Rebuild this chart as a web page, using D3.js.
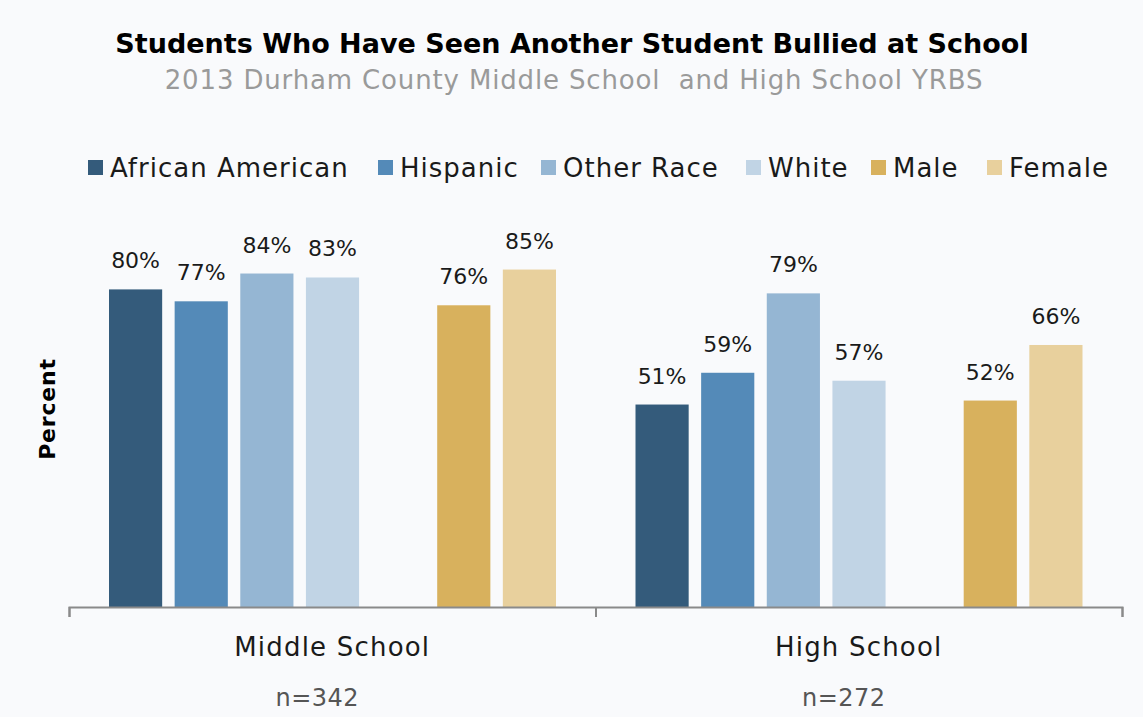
<!DOCTYPE html>
<html>
<head>
<meta charset="utf-8">
<script src="https://cdn.jsdelivr.net/npm/d3@7"></script>
<style>
  body { margin: 0; background: #f9fafc; }
  svg { display: block; font-family: "DejaVu Sans", sans-serif; }
</style>
</head>
<body>
<svg id="chart" width="1143" height="717"></svg>
<script>
// data
const groups = ["Middle School", "High School"];
const sampleSizes = ["n=342", "n=272"];
const series = ["African American", "Hispanic", "Other Race", "White", "Male", "Female"];
const africanAmerican = [80, 51];
const hispanic = [77, 59];
const otherRace = [84, 79];
const white = [83, 57];
const male = [76, 52];
const female = [85, 66];
const colors = ["#345b7b", "#548ab8", "#95b6d3", "#c1d4e5", "#d8b15d", "#e8d09d"];

const values = [africanAmerican, hispanic, otherRace, white, male, female];
// slot order, with an empty slot between race and gender bars
const slots = ["African American", "Hispanic", "Other Race", "White", "", "Male", "Female"];

const svg = d3.select("#chart");

let x0 = d3.scaleBand().domain(groups).range([69, 1122]);
let x1 = d3.scaleBand().domain(slots).range([40, 487]).paddingInner(0.19);
let y = d3.scaleLinear().domain([0, 100]).range([607, 210]);

// title
svg.append("text")
    .attr("x", 572).attr("y", 53)
    .attr("text-anchor", "middle")
    .style("font-size", "27px").style("font-weight", "bold")
    .attr("fill", "#000")
    .text("Students Who Have Seen Another Student Bullied at School");

svg.append("text")
    .attr("x", 574).attr("y", 89)
    .attr("text-anchor", "middle")
    .style("font-size", "26px").style("letter-spacing", "0.85px")
    .style("white-space", "pre")
    .attr("fill", "#9a9a9a")
    .text("2013 Durham County Middle School  and High School YRBS");

// legend
const legendX = [88, 378, 541, 746, 871, 987];
const legend = svg.append("g");
series.forEach((s, i) => {
    let g = legend.append("g").attr("transform", "translate(" + legendX[i] + ",160)");
    g.append("rect").attr("width", 15).attr("height", 15).attr("fill", colors[i]);
    g.append("text").attr("x", 22).attr("y", 17)
        .style("font-size", "26px").style("letter-spacing", "1px")
        .attr("fill", "#1a1a1a")
        .text(s);
});

// bars
const rows = [];
series.forEach((s, i) => {
    groups.forEach((grp, j) => {
        rows.push({ series: s, group: grp, value: values[i][j], color: colors[i] });
    });
});

const bars = svg.append("g");
bars.selectAll("rect")
    .data(rows)
    .enter()
    .append("rect")
      .attr("x", d => x0(d.group) + x1(d.series))
      .attr("y", d => y(d.value))
      .attr("width", x1.bandwidth())
      .attr("height", d => y(0) - y(d.value))
      .attr("fill", d => d.color);

bars.selectAll("text")
    .data(rows)
    .enter()
    .append("text")
      .attr("x", d => x0(d.group) + x1(d.series) + x1.bandwidth() / 2)
      .attr("y", d => y(d.value) - 21)
      .attr("text-anchor", "middle")
      .style("font-size", "22px")
      .attr("fill", "#1a1a1a")
      .text(d => d.value + "%");

// x axis with group boundary ticks
let xb = d3.scaleLinear().domain([0, 2]).range([69, 1122]);
svg.append("g")
    .attr("transform", "translate(0," + y(0) + ")")
    .call(d3.axisBottom(xb).tickValues([0, 1, 2]).tickSize(10).tickFormat(""))
    .call(g => g.selectAll("path, line").attr("stroke", "#8a8a8a").attr("stroke-width", 2));

svg.append("g").selectAll("text")
    .data(groups)
    .enter()
    .append("text")
      .attr("x", d => x0(d) + x0.bandwidth() / 2)
      .attr("y", 656)
      .attr("text-anchor", "middle")
      .style("font-size", "26px").style("letter-spacing", "1.2px")
      .attr("fill", "#1a1a1a")
      .text(d => d);

svg.append("g").selectAll("text")
    .data(sampleSizes)
    .enter()
    .append("text")
      .attr("x", (d, i) => x0(groups[i]) + x0.bandwidth() / 2 - 15)
      .attr("y", 706)
      .attr("text-anchor", "middle")
      .style("font-size", "24px").style("letter-spacing", "0.5px")
      .attr("fill", "#555")
      .text(d => d);

// y axis title
svg.append("text")
    .attr("transform", "translate(55,409) rotate(-90)")
    .attr("text-anchor", "middle")
    .style("font-size", "22px").style("font-weight", "bold")
    .style("letter-spacing", "0.8px")
    .attr("fill", "#000")
    .text("Percent");
</script>
</body>
</html>
